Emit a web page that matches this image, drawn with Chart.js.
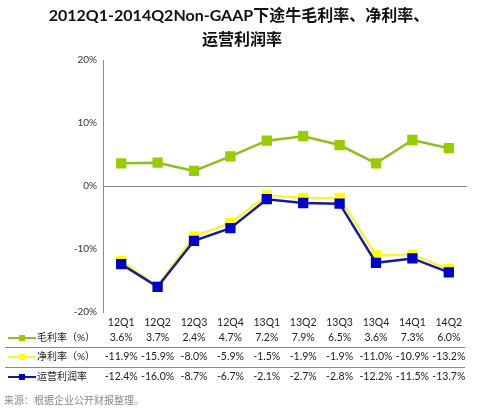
<!DOCTYPE html>
<html>
<head>
<meta charset="utf-8">
<script src="https://cdn.jsdelivr.net/npm/chart.js@4"></script>
<style>
  html, body { margin: 0; padding: 0; background: #fff; }
  #wrap { width: 489px; height: 411px; position: relative; }
</style>
</head>
<body>
<div id="wrap"><canvas id="margin-chart" width="489" height="411"></canvas></div>
<script>
const quarters = ['12Q1', '12Q2', '12Q3', '12Q4', '13Q1', '13Q2', '13Q3', '13Q4', '14Q1', '14Q2'];
const grossMargin = [3.6, 3.7, 2.4, 4.7, 7.2, 7.9, 6.5, 3.6, 7.3, 6.0];
const netMargin = [-11.9, -15.9, -8.0, -5.9, -1.5, -1.9, -1.9, -11.0, -10.9, -13.2];
const opMargin = [-12.4, -16.0, -8.7, -6.7, -2.1, -2.7, -2.8, -12.2, -11.5, -13.7];
const yTicks = [-20, -10, 0, 10, 20];

const titleLines = ['2012Q1-2014Q2Non-GAAP下途牛毛利率、净利率、', '运营利润率'];
const sourceText = '来源：根据企业公开财报整理。';
const fontFamily = "Lato, 'Noto Sans CJK SC', sans-serif";

const rows = [
    { label: '毛利率（%）', data: grossMargin, line: '#8fbf1a', mark: '#99cc00' },
    { label: '净利率（%）', data: netMargin, line: '#f5f53a', mark: '#ffff00' },
    { label: '运营利润率', data: opMargin, line: '#1a1a99', mark: '#0000cc' }
];

// title, data table and source text
const tablePlugin = {
    id: 'tablePlugin',
    afterDraw(chart) {
        const ctx = chart.ctx;
        const x = chart.scales.x;
        ctx.save();

        ctx.fillStyle = '#111';
        ctx.font = 'bold 16px ' + fontFamily;
        ctx.textAlign = 'center';
        ctx.textBaseline = 'middle';
        ctx.fillText(titleLines[0], 239, 16);
        ctx.fillText(titleLines[1], 242, 40);

        const rowY = [338, 357, 377];
        ctx.strokeStyle = '#8a8a8a';
        ctx.lineWidth = 1;
        [347.5, 367.5].forEach(function (y) {
            ctx.beginPath();
            ctx.moveTo(5, y);
            ctx.lineTo(465, y);
            ctx.stroke();
        });

        rows.forEach(function (row, i) {
            const y = rowY[i];
            ctx.strokeStyle = row.line;
            ctx.lineWidth = 2;
            ctx.beginPath();
            ctx.moveTo(8, y);
            ctx.lineTo(36, y);
            ctx.stroke();
            ctx.fillStyle = row.mark;
            ctx.fillRect(19, y - 3, 6, 6);

            ctx.fillStyle = '#222';
            ctx.font = '10px ' + fontFamily;
            ctx.textAlign = 'left';
            ctx.fillText(row.label, 37, y);

            ctx.font = '10.5px ' + fontFamily;
            ctx.textAlign = 'center';
            row.data.forEach(function (v, j) {
                ctx.fillText(v.toFixed(1) + '%', x.getPixelForValue(j), y);
            });
        });

        ctx.fillStyle = '#8a8a8a';
        ctx.font = '10px ' + fontFamily;
        ctx.textAlign = 'left';
        ctx.fillText(sourceText, 4, 401);
        ctx.restore();
    }
};

function makeSet(row, order) {
    return {
        label: row.label,
        data: row.data,
        borderColor: row.line,
        backgroundColor: row.mark,
        pointBackgroundColor: row.mark,
        pointBorderColor: row.mark,
        pointStyle: 'rect',
        pointRadius: 5.5,
        borderWidth: 2.5,
        tension: 0,
        order: order
    };
}

const ctx = document.getElementById('margin-chart').getContext('2d');
new Chart(ctx, {
    type: 'line',
    data: {
        labels: quarters,
        datasets: [makeSet(rows[0], 3), makeSet(rows[1], 2), makeSet(rows[2], 1)]
    },
    options: {
        responsive: false,
        animation: false,
        plugins: {
            legend: { display: false },
            title: { display: false },
            tooltip: { enabled: false }
        },
        layout: { padding: { left: 0, right: 22, top: 60, bottom: 0 } },
        scales: {
            x: {
                offset: true,
                grid: { display: false, drawTicks: false, offset: true },
                border: { display: false },
                ticks: { color: '#222', font: { size: 10.5, family: fontFamily }, padding: 4, maxRotation: 0, autoSkip: false },
                afterFit: function (s) { s.height = 99; }
            },
            y: {
                min: yTicks[0],
                max: yTicks[yTicks.length - 1],
                afterBuildTicks: function (s) { s.ticks = yTicks.map(function (v) { return { value: v }; }); },
                grid: {
                    drawTicks: false,
                    color: function (c) { return c.tick && c.tick.value === 0 ? '#8a8a8a' : 'transparent'; },
                    lineWidth: 1
                },
                border: { display: true, color: '#8a8a8a', width: 1 },
                ticks: {
                    color: '#333',
                    font: { size: 10, family: fontFamily },
                    padding: 6,
                    callback: function (v) { return v + '%'; }
                },
                afterFit: function (s) { s.width = 103; }
            }
        }
    },
    plugins: [tablePlugin]
});
</script>
</body>
</html>
